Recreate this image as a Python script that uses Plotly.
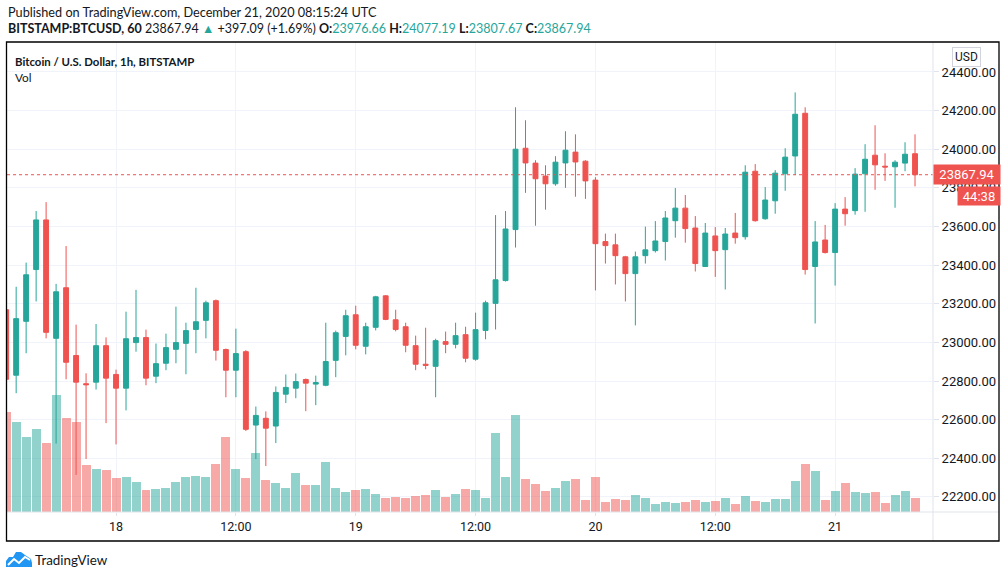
import pandas as pd
import plotly.graph_objects as go

# BITSTAMP:BTCUSD, 1h candles, 17 Dec 2020 13:00 -> 21 Dec 2020 08:00 (UTC)
start = "2020-12-17 13:00"
opens = [23169, 22830, 23109, 23377, 23634, 23021, 23283, 22932, 22786, 22794,
         22983, 22834, 22763, 22999, 23025, 22825, 22892, 22964, 22995, 23067,
         23114, 23216, 22963, 22856, 22952, 22572, 22607, 22567, 22732, 22763,
         22808, 22784, 22778, 22907, 23031, 23143, 22980, 23078, 23241, 23117,
         23081, 22983, 22887, 22876, 23004, 22990, 23040, 22913, 23062, 23202,
         23320, 23584, 24005, 23928, 23861, 23821, 23929, 23985, 23938, 23840,
         23522, 23505, 23443, 23356, 23449, 23475, 23522, 23630, 23695, 23592,
         23393, 23551, 23480, 23566, 23547, 23886, 23640, 23733, 23873, 23965,
         24186, 23393, 23530, 23465, 23690, 23682, 23873, 23969, 23912, 23909,
         23928, 23976.66]
highs = [23185, 23288, 23413, 23680, 23726, 23303, 23499, 23092, 22840, 23095,
         23026, 22859, 23159, 23272, 23066, 22994, 23045, 23185, 23102, 23283,
         23216, 23222, 22968, 23071, 22960, 22668, 22643, 22772, 22834, 22839,
         22813, 22828, 23102, 23061, 23169, 23190, 23102, 23241, 23245, 23169,
         23102, 23035, 23076, 23019, 23056, 23102, 23081, 23154, 23216, 23659,
         23680, 24217, 24150, 23943, 23917, 23964, 24093, 24077, 23943, 23855,
         23563, 23563, 23448, 23470, 23599, 23628, 23680, 23799, 23763, 23654,
         23618, 23597, 23592, 23670, 23917, 23923, 23804, 23892, 24005, 24294,
         24217, 23628, 23608, 23721, 23752, 23902, 24026, 24124, 23979, 23943,
         24036, 24077.19]
lows = [22790, 22737, 22944, 23212, 23021, 22476, 22809, 22314, 22396, 22756,
        22582, 22472, 22648, 22952, 22778, 22789, 22856, 22892, 22835, 22944,
        23021, 22906, 22716, 22716, 22541, 22396, 22360, 22479, 22686, 22711,
        22644, 22675, 22773, 22820, 22933, 22964, 22938, 23062, 23115, 23057,
        22949, 22856, 22861, 22716, 22944, 22969, 22897, 22905, 23016, 23067,
        23315, 23491, 23774, 23604, 23687, 23811, 23800, 23754, 23743, 23269,
        23408, 23300, 23212, 23088, 23408, 23465, 23424, 23542, 23516, 23367,
        23390, 23339, 23274, 23511, 23532, 23625, 23635, 23666, 23785, 23866,
        23351, 23098, 23460, 23294, 23604, 23661, 23676, 23790, 23836, 23697,
        23886, 23807.67]
closes = [22809, 23123, 23350, 23634, 23052, 23262, 22897, 22794, 22781, 22983,
          22815, 22763, 23019, 23025, 22815, 22890, 22973, 22999, 23061, 23107,
          23205, 22959, 22856, 22942, 22550, 22622, 22556, 22741, 22767, 22797,
          22789, 22792, 22901, 23050, 23138, 22985, 23081, 23236, 23119, 23067,
          22985, 22887, 22881, 23009, 22990, 23035, 22918, 23066, 23205, 23324,
          23587, 24000, 23929, 23847, 23821, 23933, 23995, 23934, 23836, 23511,
          23501, 23449, 23356, 23443, 23479, 23525, 23644, 23695, 23589, 23408,
          23566, 23475, 23561, 23542, 23881, 23630, 23737, 23876, 23959, 24181,
          23377, 23520, 23465, 23690, 23666, 23871, 23948, 23919, 23908, 23933,
          23974, 23867.94]
volumes = [1000, 900, 750, 830, 690, 1170, 940, 900, 470, 430,
           420, 340, 350, 300, 220, 230, 240, 300, 350, 360,
           350, 480, 750, 430, 340, 590, 320, 290, 240, 390,
           270, 270, 500, 240, 200, 220, 230, 180, 140, 150,
           140, 160, 170, 220, 150, 180, 230, 220, 140, 790,
           350, 970, 330, 280, 210, 240, 310, 330, 120, 350,
           100, 130, 120, 170, 140, 80, 100, 90, 100, 120,
           100, 110, 140, 80, 160, 110, 100, 130, 130, 310,
           480, 410, 120, 210, 290, 200, 190, 200, 90, 170,
           210, 140]
tick_vals = ["2020-12-18 00:00", "2020-12-18 12:00", "2020-12-19 00:00", "2020-12-19 12:00",
             "2020-12-20 00:00", "2020-12-20 12:00", "2020-12-21 00:00"]
tick_text = ["18", "12:00", "19", "12:00", "20", "12:00", "21"]
last_price = 23867.94

times = pd.date_range(start, periods=len(opens), freq="h")

UP = "#26a69a"
DOWN = "#ef5350"
TXT = "#131722"
GRID = "#f0f3fa"
AXL = "#e0e3eb"
FONT = "Roboto"
HFONT = "Lato"

# pixel -> paper helpers (plot area is x 7..933, y 42..512)
def px(x):
    return (x - 7) / 926.0

def py(y):
    return (512 - y) / 470.0

vol_colors = ["rgba(38,166,154,0.5)" if c >= o else "rgba(239,83,80,0.5)"
              for o, c in zip(opens, closes)]

fig = go.Figure()
fig.add_trace(go.Bar(x=times, y=volumes, marker_color=vol_colors, marker_line_width=0,
                     width=3600 * 1000 * 0.9, yaxis="y", showlegend=False))
fig.add_trace(go.Candlestick(
    x=times, open=opens, high=highs, low=lows, close=closes, yaxis="y2",
    increasing=dict(line=dict(color=UP, width=1), fillcolor=UP),
    decreasing=dict(line=dict(color=DOWN, width=1), fillcolor=DOWN),
    showlegend=False))

shapes = [
    # last price dotted line
    dict(type="line", xref="paper", yref="y2", x0=0, x1=1, y0=last_price, y1=last_price,
         line=dict(color=DOWN, width=1, dash="dot")),
    # axis separators
    dict(type="line", xref="paper", yref="paper", x0=1, x1=1, y0=py(541), y1=1,
         line=dict(color=AXL, width=1)),
    dict(type="line", xref="paper", yref="paper", x0=0, x1=px(999), y0=0, y1=0,
         line=dict(color=AXL, width=1)),
    # outer frame
    dict(type="rect", xref="paper", yref="paper", x0=px(6.5), x1=px(999), y0=py(541), y1=py(42),
         line=dict(color="black", width=1.3)),
]

# TradingView logo (cloud with line)
cloud = [(6, 567), (6, 561), (9, 557), (13, 557), (16, 552), (21, 552), (25, 555), (28, 557),
         (31, 559), (32, 563), (32, 567)]
path = "M " + " L ".join(f"{px(a)},{py(b)}" for a, b in cloud) + " Z"
shapes.append(dict(type="path", xref="paper", yref="paper", path=path,
                   fillcolor="#2196f3", line=dict(width=0)))
zig = [(8, 565), (14, 559), (19, 563), (25, 557), (30, 560)]
path2 = "M " + " L ".join(f"{px(a)},{py(b)}" for a, b in zig)
shapes.append(dict(type="path", xref="paper", yref="paper", path=path2,
                   line=dict(color="white", width=2)))

header2 = (f"<b>BITSTAMP:BTCUSD, 60</b> {last_price:.2f} <span style='color:{UP}'>▲</span> "
           f"+397.09 (+1.69%) <b>O:</b><span style='color:{UP}'>{opens[-1]:.2f}</span> "
           f"<b>H:</b><span style='color:{UP}'>{highs[-1]:.2f}</span> "
           f"<b>L:</b><span style='color:{UP}'>{lows[-1]:.2f}</span> "
           f"<b>C:</b><span style='color:{UP}'>{closes[-1]:.2f}</span>")

annotations = [
    dict(text="Published on TradingView.com, December 21, 2020 08:15:24 UTC",
         x=px(6), y=py(12), font=dict(size=12.7, color=TXT, family=HFONT)),
    dict(text=header2, x=px(6), y=py(29), font=dict(size=12.5, color=TXT, family=HFONT)),
    dict(text="<b>Bitcoin / U.S. Dollar, 1h, BITSTAMP</b>", x=px(13), y=py(61),
         font=dict(size=11.4, color=TXT, family=HFONT)),
    dict(text="Vol", x=px(13), y=py(77), font=dict(size=11.8, color=TXT, family=HFONT)),
    dict(text="TradingView", x=px(33), y=py(560), font=dict(size=13.4, color=TXT, family=HFONT)),
]
for a in annotations:
    a.update(xref="paper", yref="paper", xanchor="left", yanchor="middle", showarrow=False)

annotations += [
    dict(text="USD", xref="paper", yref="paper", x=px(966), y=py(57), showarrow=False,
         xanchor="center", yanchor="middle", bgcolor="white", bordercolor="#d1d4dc",
         borderwidth=1, borderpad=2, font=dict(size=12, color=TXT, family=FONT)),
    dict(text=f"{last_price:.2f}", xref="paper", yref="y2", x=1, y=last_price, showarrow=False,
         xanchor="left", yanchor="middle", bgcolor=DOWN, width=62, height=15, borderpad=2,
         font=dict(size=13, color="white", family=FONT)),
    dict(text="44:38", xref="paper", yref="y2", x=px(957), y=last_price, yshift=-21,
         showarrow=False, xanchor="left", yanchor="middle", bgcolor=DOWN, width=38, height=14,
         borderpad=2, font=dict(size=13, color="white", family=FONT)),
]

fig.update_layout(
    width=1006, height=578,
    margin=dict(l=7, r=73, t=42, b=66),
    paper_bgcolor="white", plot_bgcolor="white",
    hovermode=False, showlegend=False, bargap=0,
    font=dict(family=FONT, size=12, color=TXT),
    xaxis=dict(type="date", range=["2020-12-17 13:05", "2020-12-21 09:48"],
               tickvals=tick_vals, ticktext=tick_text, showgrid=True, gridcolor=GRID,
               ticks="outside", ticklen=3, tickcolor=AXL, showline=False, zeroline=False,
               rangeslider=dict(visible=False), tickfont=dict(size=12.5, color=TXT)),
    yaxis=dict(range=[0, 4700], visible=False, fixedrange=True),
    yaxis2=dict(overlaying="y", side="right", anchor="x", range=[22122, 24555],
                dtick=200, tick0=0, tickformat=".2f", showgrid=True, gridcolor=GRID,
                ticks="outside", ticklen=5, tickcolor=AXL, zeroline=False, showline=False,
                tickfont=dict(size=13, color=TXT)),
    shapes=shapes, annotations=annotations,
)

fig.write_html("out.html", config={"displayModeBar": False},
               post_script="document.body.style.margin='0';")
